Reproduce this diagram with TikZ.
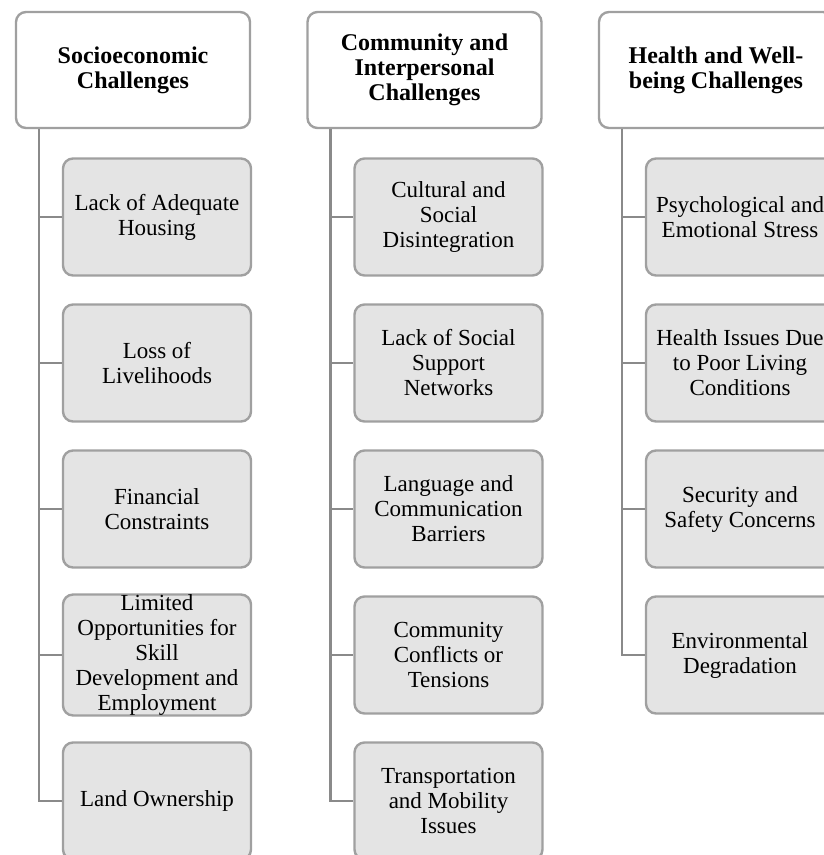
\documentclass[tikz,border=0pt]{standalone}
\usepackage{fontspec}
\setmainfont{Liberation Serif}

\definecolor{edgegray}{RGB}{160,160,160}
\definecolor{linegray}{RGB}{138,138,138}
\definecolor{boxfill}{RGB}{228,228,228}

\tikzset{
  headbox/.style={draw=edgegray, line width=2.4pt, fill=white,
    rounded corners=10pt, minimum width=234pt, minimum height=116pt,
    align=center, inner sep=0pt,
    font=\fontsize{24}{25}\selectfont\bfseries},
  itembox/.style={draw=edgegray, line width=2.4pt, fill=boxfill,
    rounded corners=10pt, minimum width=188pt, minimum height=117pt,
    align=center, inner sep=0pt,
    font=\fontsize{23}{25}\selectfont},
  conn/.style={draw=linegray, line width=2.6pt}
}

\begin{document}
\begin{tikzpicture}[x=1pt, y=-1pt]
\useasboundingbox (0,0) rectangle (823,855);

% column headers (left edges at 16, 307.5, 599)
\node[headbox] (h1) at (133,70)   {Socioeconomic\\Challenges};
\node[headbox] (h2) at (424.5,70) {Community and\\Interpersonal\\Challenges};
\node[headbox] (h3) at (716,70)   {Health and Well-\\being Challenges};

% socioeconomic items
\node[itembox] (a1) at (157,217) {Lack of Adequate\\Housing};
\node[itembox] (a2) at (157,363) {Loss of\\Livelihoods};
\node[itembox] (a3) at (157,509) {Financial\\Constraints};
\node[itembox] (a4) at (157,655) {Limited\\Opportunities for\\Skill\\Development and\\Employment};
\node[itembox] (a5) at (157,801) {Land Ownership};

% community items
\node[itembox] (b1) at (448.5,217) {Cultural and\\Social\\Disintegration};
\node[itembox] (b2) at (448.5,363) {Lack of Social\\Support\\Networks};
\node[itembox] (b3) at (448.5,509) {Language and\\Communication\\Barriers};
\node[itembox] (b4) at (448.5,655) {Community\\Conflicts or\\Tensions};
\node[itembox] (b5) at (448.5,801) {Transportation\\and Mobility\\Issues};

% health items
\node[itembox] (c1) at (740,217) {Psychological and\\Emotional Stress};
\node[itembox] (c2) at (740,363) {Health Issues Due\\to Poor Living\\Conditions};
\node[itembox] (c3) at (740,509) {Security and\\Safety Concerns};
\node[itembox] (c4) at (740,655) {Environmental\\Degradation};

% trunk points under each header
\coordinate (t1) at ([xshift=24pt]h1.south west);
\coordinate (t2) at ([xshift=24pt]h2.south west);
\coordinate (t3) at ([xshift=24pt]h3.south west);

% elbow connectors
\foreach \n in {a1,a2,a3,a4,a5} \draw[conn] (t1) |- (\n.west);
\foreach \n in {b1,b2,b3,b4,b5} \draw[conn] (t2) |- (\n.west);
\foreach \n in {c1,c2,c3,c4} \draw[conn] (t3) |- (\n.west);
\end{tikzpicture}
\end{document}
